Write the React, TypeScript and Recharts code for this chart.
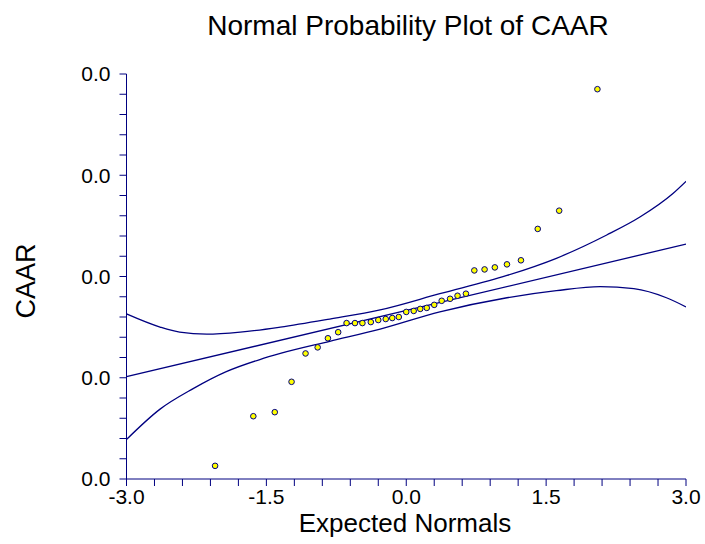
import React from "react";
import { ComposedChart, Scatter, Line, XAxis, YAxis } from "recharts";

// Expected normal scores and the sorted CAAR observations
const expectedNormals = [
  -2.05, -1.64, -1.41, -1.23, -1.08, -0.95, -0.84, -0.73, -0.64, -0.55, -0.47,
  -0.38, -0.3, -0.22, -0.15, -0.08, 0, 0.08, 0.15, 0.22, 0.3, 0.38, 0.47, 0.55,
  0.64, 0.73, 0.84, 0.95, 1.08, 1.23, 1.41, 1.64, 2.05,
];
const caar = [
  0.0013, 0.0062, 0.0066, 0.0096, 0.0124, 0.013, 0.0139, 0.0145, 0.0154,
  0.0154, 0.0154, 0.0155, 0.0157, 0.0158, 0.0159, 0.016, 0.0165, 0.0166,
  0.0168, 0.0169, 0.0172, 0.0176, 0.0178, 0.0181, 0.0183, 0.0206, 0.0207,
  0.0209, 0.0212, 0.0216, 0.0247, 0.0265, 0.0385,
];

// Reference line and its confidence bands
const fitX = [-3, 3];
const fitY = [0.0101, 0.0232];
const upperX = [
  -3, -2.64, -2.43, -2.14, -1.78, -1.35, -0.82, -0.28, 0.36, 1.08, 1.61, 2.15,
  2.51, 2.86, 3,
];
const upperY = [
  0.0163, 0.015, 0.0145, 0.0143, 0.0145, 0.015, 0.0158, 0.0167, 0.0183,
  0.0201, 0.0218, 0.0241, 0.0259, 0.0282, 0.0294,
];
const lowerX = [
  -3, -2.64, -2.29, -1.93, -1.57, -1.35, -0.82, -0.28, 0.36, 1.08, 1.61, 2.08,
  2.44, 2.79, 3,
];
const lowerY = [
  0.0039, 0.0069, 0.0089, 0.0106, 0.0118, 0.0124, 0.0136, 0.0148, 0.0165,
  0.0179, 0.0186, 0.019, 0.0188, 0.0179, 0.017,
];

// Axis ticks (minor ticks carry no label)
const xTicks = [
  -3, -2.7, -2.4, -2.1, -1.8, -1.5, -1.2, -0.9, -0.6, -0.3, 0, 0.3, 0.6, 0.9,
  1.2, 1.5, 1.8, 2.1, 2.4, 2.7, 3,
];
const xMajorTicks = [-3, -1.5, 0, 1.5, 3];
const yTicks = [
  0, 0.002, 0.004, 0.006, 0.008, 0.01, 0.012, 0.014, 0.016, 0.018, 0.02,
  0.022, 0.024, 0.026, 0.028, 0.03, 0.032, 0.034, 0.036, 0.038, 0.04,
];
const yMajorTicks = [0, 0.01, 0.02, 0.03, 0.04];

const NAVY = "#000080";
const FONT = "'Liberation Sans', Arial, sans-serif";

const points = expectedNormals.map((x, i) => ({ x, y: caar[i] }));
const fitLine = fitX.map((x, i) => ({ x, y: fitY[i] }));
const upperBand = upperX.map((x, i) => ({ x, y: upperY[i] }));
const lowerBand = lowerX.map((x, i) => ({ x, y: lowerY[i] }));

const isMajor = (list: number[], v: number) =>
  list.some((m) => Math.abs(m - v) < 1e-9);

const Dot = (props: any) => (
  <circle
    cx={props.cx}
    cy={props.cy}
    r={2.8}
    fill="#FFFF00"
    stroke={NAVY}
    strokeWidth={1}
  />
);

export default function App() {
  return (
    <div
      style={{
        position: "absolute",
        left: 0,
        top: 0,
        width: 705,
        height: 544,
        background: "#fff",
        fontFamily: FONT,
      }}
    >
      <ComposedChart
        width={705}
        height={544}
        margin={{ top: 74, right: 19, bottom: 0, left: 0 }}
      >
        <XAxis
          dataKey="x"
          type="number"
          domain={[-3, 3]}
          ticks={xTicks}
          interval={0}
          allowDataOverflow
          height={65}
          stroke={NAVY}
          tickSize={7}
          tickMargin={3}
          tickLine={{ stroke: NAVY }}
          tick={{ fontSize: 21, fill: "#000", fontFamily: FONT }}
          tickFormatter={(v: number) =>
            isMajor(xMajorTicks, v) ? v.toFixed(1) : ""
          }
        />
        <YAxis
          dataKey="y"
          type="number"
          domain={[0, 0.04]}
          ticks={yTicks}
          interval={0}
          allowDataOverflow
          width={126.5}
          stroke={NAVY}
          tickSize={7}
          tickMargin={9}
          tickLine={{ stroke: NAVY }}
          tick={{ fontSize: 21, fill: "#000", fontFamily: FONT }}
          tickFormatter={(v: number) =>
            isMajor(yMajorTicks, v) ? v.toFixed(1) : ""
          }
        />
        <Line
          data={upperBand}
          dataKey="y"
          type="monotone"
          stroke={NAVY}
          strokeWidth={1.3}
          dot={false}
          activeDot={false}
          isAnimationActive={false}
        />
        <Line
          data={fitLine}
          dataKey="y"
          type="linear"
          stroke={NAVY}
          strokeWidth={1.3}
          dot={false}
          activeDot={false}
          isAnimationActive={false}
        />
        <Line
          data={lowerBand}
          dataKey="y"
          type="monotone"
          stroke={NAVY}
          strokeWidth={1.3}
          dot={false}
          activeDot={false}
          isAnimationActive={false}
        />
        <Scatter
          data={points}
          dataKey="y"
          shape={Dot}
          isAnimationActive={false}
        />
      </ComposedChart>
      <svg
        width={705}
        height={544}
        style={{ position: "absolute", left: 0, top: 0, pointerEvents: "none" }}
      >
        <text
          x={408}
          y={35}
          textAnchor="middle"
          fontSize={28}
          fontFamily={FONT}
          fill="#000"
        >
          Normal Probability Plot of CAAR
        </text>
        <text
          x={405}
          y={532}
          textAnchor="middle"
          fontSize={26}
          fontFamily={FONT}
          fill="#000"
        >
          Expected Normals
        </text>
        <text
          x={35}
          y={281}
          textAnchor="middle"
          fontSize={27}
          fontFamily={FONT}
          fill="#000"
          transform="rotate(-90, 35, 281)"
        >
          CAAR
        </text>
      </svg>
    </div>
  );
}
